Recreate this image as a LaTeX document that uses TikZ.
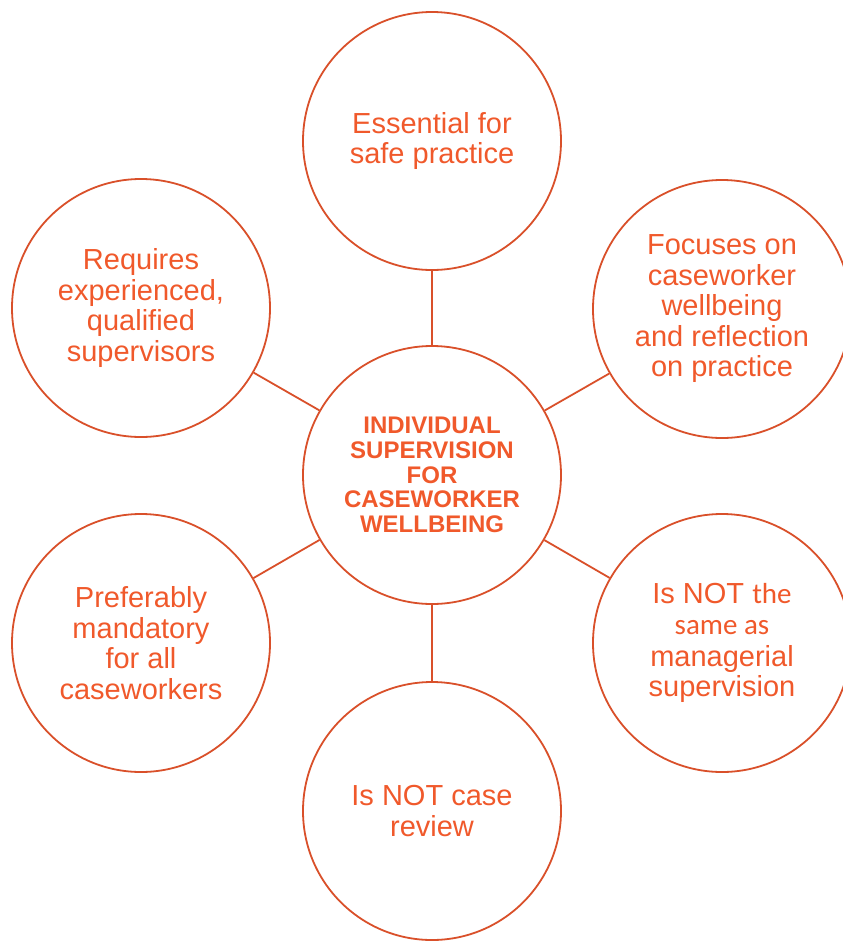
\documentclass[tikz,border=0pt]{standalone}
\usepackage{fontspec}
\setmainfont{Liberation Sans}
\newfontfamily\carl{Carlito}
\definecolor{ring}{HTML}{D9502A}
\definecolor{txt}{HTML}{F0592B}
\begin{document}
\begin{tikzpicture}[x=1bp,y=-1bp,
  bubble/.style={circle,draw=ring,line width=1.8bp,minimum size=258bp,inner sep=0pt,
    text=txt,align=center,font=\fontsize{29bp}{30.5bp}\selectfont},
  hub/.style={bubble,font=\fontsize{24bp}{24.8bp}\selectfont\bfseries},
  link/.style={draw=ring,line width=1.8bp}]
\useasboundingbox (0,0) rectangle (843,942);
\node[hub] (c) at (432,475) {INDIVIDUAL\\SUPERVISION\\FOR\\CASEWORKER\\WELLBEING};
\node[bubble] (t) at (432,141) {Essential for\\safe practice};
\node[bubble] (ur) at (722,309) {Focuses on\\caseworker\\wellbeing\\and reflection\\on practice};
\node[bubble] (lr) at (722,643) {Is NOT {\carl the}\\[1bp]{\carl same as}\\[1bp]managerial\\supervision};
\node[bubble] (b) at (432,811) {Is NOT case\\review};
\node[bubble] (ll) at (141,643) {Preferably\\mandatory\\for all\\caseworkers};
\node[bubble] (ul) at (141,308) {Requires\\experienced,\\qualified\\supervisors};
\foreach \n in {t,ur,lr,b,ll,ul} \draw[link] (c) -- (\n);
\end{tikzpicture}
\end{document}
